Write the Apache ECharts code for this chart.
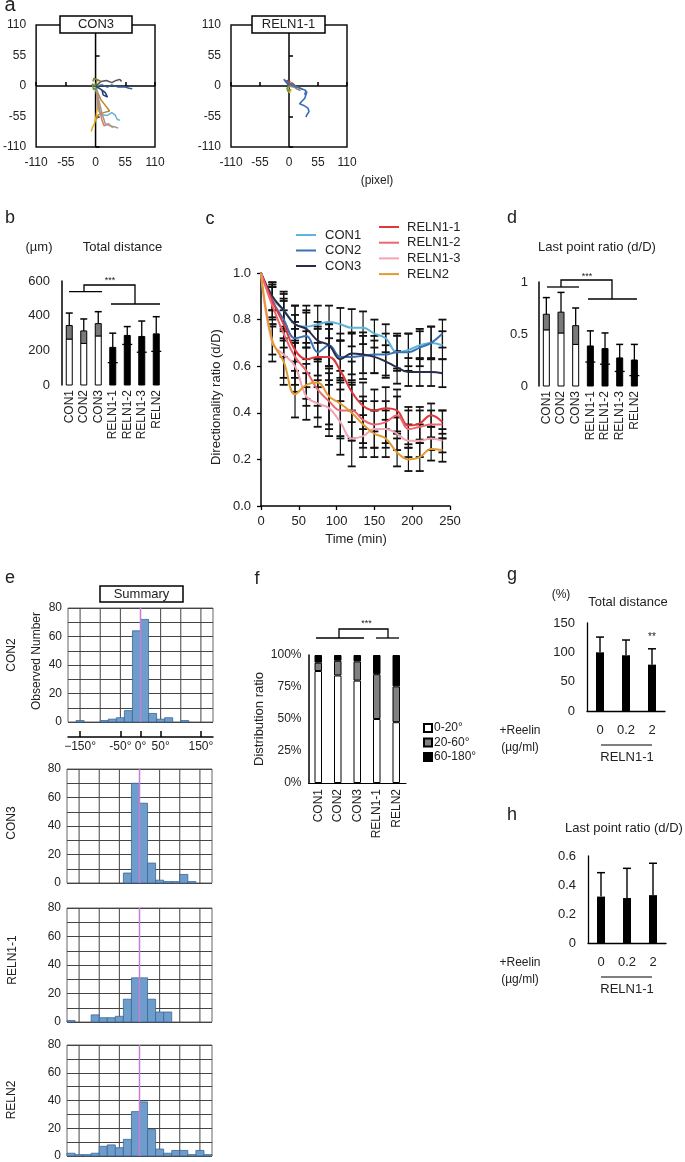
<!DOCTYPE html>
<html><head><meta charset="utf-8">
<script src="https://cdn.jsdelivr.net/npm/echarts@6/dist/echarts.min.js"></script>
<style>html,body{margin:0;padding:0;background:#fff}#c{width:685px;height:1162px}</style>
</head><body><div id="c"></div>
<script>
const FONT = "'Liberation Sans', Arial, Helvetica, sans-serif";

// ---------- Panel a: trajectories (pixel) ----------
const crossH = [[-110, 0], [110, 0]];
const crossV = [[0, -110], [0, 110]];
const con3Gold = [[0,0],[2,-10],[4,-25],[3,-40],[1,-55],[-2,-68],[-6,-75],[-8,-82]];
const con3Brown = [[0,0],[4,-12],[10,-25],[18,-35],[26,-45],[15,-48],[5,-52],[2,-60]];
const con3LightBlue = [[0,0],[2,-15],[4,-30],[6,-45],[10,-52],[22,-53],[30,-48],[36,-52],[40,-60],[45,-62]];
const con3Salmon = [[0,0],[3,-20],[8,-45],[12,-62],[16,-72],[24,-68],[28,-72],[32,-75]];
const con3Gray = [[0,0],[6,-25],[12,-50],[18,-68],[28,-72],[36,-74],[42,-76]];
const con3DarkBlue = [[0,0],[12,2],[22,-2],[30,2],[42,-2],[55,-2],[62,-4],[68,-5]];
const con3Dark = [[0,0],[10,8],[20,10],[30,6],[38,10],[45,12],[48,8]];
const con3Green = [[0,0],[-6,4],[-4,-6],[2,-4],[6,2]];
const con3Olive = [[0,0],[3,12],[10,8],[-3,14],[-5,8]];
const con3Navy = [[0,0],[10,-6],[18,-12],[22,-20],[14,-16],[12,-8]];
const con3Traj = [con3Gold, con3Brown, con3LightBlue, con3Salmon, con3Gray, con3DarkBlue, con3Dark, con3Green, con3Olive, con3Navy];
const con3Colors = ['#e8aa1c','#b8862a','#6aaed6','#e07a5a','#9a9a9a','#2d5d9a','#555555','#5a9a3a','#8a7a3a','#1f3f7a'];

const relnBlue = [[0,0],[-10,12],[-4,8],[6,2],[16,-2],[26,-6],[32,-8],[30,-16],[34,-10],[30,-22],[24,-28],[20,-32],[28,-35],[36,-40],[38,-46],[34,-52],[32,-56]];
const relnOrange = [[0,0],[8,4],[14,-2],[20,-4],[26,-6]];
const relnRed = [[0,0],[-4,10],[2,8],[-2,4]];
const relnGreen = [[0,0],[-4,-4],[-2,-10],[3,-6]];
const relnYellow = [[0,0],[-3,-8],[2,-12],[4,-6]];
const relnGray = [[0,0],[10,-2],[16,-6],[22,-8]];
const relnBrown = [[0,0],[5,6],[10,2],[14,-3]];
const relnTraj = [relnOrange, relnRed, relnGray, relnBrown, relnYellow, relnGreen, relnBlue];
const relnColors = ['#e07a2a','#c03a2a','#888888','#9a6a3a','#e8c040','#6aa040','#3a6db5'];

// ---------- Panels b, d ----------
const groups7 = ['CON1','CON2','CON3','RELN1-1','RELN1-2','RELN1-3','RELN2'];
const distMean = [343, 312, 354, 217, 286, 280, 295];
const distLow  = [265, 240, 283, 129, 234, 189, 194];
const distTop  = [415, 381, 423, 299, 337, 369, 394];
const ratioMean = [0.69, 0.71, 0.58, 0.385, 0.36, 0.27, 0.25];
const ratioLow  = [0.54, 0.51, 0.40, 0.23, 0.21, 0.14, 0.10];
const ratioTop  = [0.85, 0.90, 0.75, 0.53, 0.51, 0.40, 0.40];

// ---------- Panel c ----------
const times = [0,15,30,45,60,75,90,105,120,135,150,165,180,195,210,225,240];
const cCON1 = [1.00,0.89,0.84,0.78,0.77,0.78,0.79,0.78,0.765,0.765,0.74,0.72,0.66,0.67,0.69,0.70,0.69];
const cCON2 = [1.00,0.88,0.80,0.72,0.73,0.66,0.69,0.64,0.64,0.645,0.65,0.65,0.66,0.66,0.68,0.70,0.74];
const cCON3 = [1.00,0.90,0.84,0.78,0.76,0.71,0.69,0.63,0.655,0.65,0.64,0.62,0.595,0.575,0.575,0.575,0.57];
const cRELN11 = [1.00,0.88,0.78,0.67,0.63,0.64,0.64,0.58,0.49,0.43,0.41,0.42,0.41,0.345,0.355,0.39,0.36];
const cRELN12 = [1.00,0.86,0.74,0.64,0.58,0.50,0.45,0.41,0.41,0.37,0.35,0.36,0.39,0.33,0.34,0.35,0.35];
const cRELN13 = [1.00,0.70,0.65,0.60,0.47,0.44,0.42,0.36,0.29,0.30,0.33,0.33,0.31,0.28,0.28,0.29,0.28];
const cRELN2 = [1.00,0.71,0.62,0.48,0.52,0.53,0.47,0.44,0.40,0.35,0.31,0.29,0.23,0.20,0.21,0.245,0.24];
const sdCON1 = [0,0.05,0.08,0.08,0.09,0.08,0.07,0.07,0.08,0.07,0.06,0.06,0.07,0.07,0.06,0.07,0.06];
const sdCON2 = [0,0.07,0.09,0.10,0.10,0.10,0.09,0.10,0.10,0.10,0.08,0.09,0.08,0.08,0.08,0.07,0.06];
const sdCON3 = [0,0.06,0.07,0.08,0.08,0.08,0.09,0.08,0.09,0.08,0.07,0.07,0.07,0.06,0.06,0.06,0.06];
const sdRELN11 = [0,0.08,0.10,0.12,0.12,0.13,0.12,0.13,0.13,0.10,0.09,0.09,0.09,0.08,0.07,0.05,0.05];
const sdRELN12 = [0,0.08,0.10,0.12,0.12,0.12,0.12,0.12,0.12,0.10,0.10,0.09,0.08,0.08,0.07,0.06,0.06];
const sdRELN13 = [0,0.08,0.10,0.11,0.10,0.10,0.12,0.14,0.12,0.09,0.08,0.08,0.07,0.07,0.07,0.05,0.05];
const sdRELN2 = [0,0.06,0.10,0.10,0.09,0.10,0.12,0.14,0.12,0.10,0.10,0.08,0.06,0.05,0.06,0.05,0.05];
const cNames = ['CON1','CON2','CON3','RELN1-1','RELN1-2','RELN1-3','RELN2'];
const cVals = [cCON1, cCON2, cCON3, cRELN11, cRELN12, cRELN13, cRELN2];
const cSds = [sdCON1, sdCON2, sdCON3, sdRELN11, sdRELN12, sdRELN13, sdRELN2];
const cColors = ['#5fb4dc','#3a72b4','#2a2c4c','#e2383a','#ee6670','#f2a4b4','#e39a30'];

// ---------- Panel e: angle histograms ----------
const binStarts = [-180,-160,-140,-120,-100,-80,-60,-40,-20,0,20,40,60,80,100,120,140,160];
const binWidth = 20;
const histCON2  = [0,1,0,0,1,2,3,8,64,72,6,2,3,0,1,0,0,0];
const histCON3  = [0,0,0,0,0,0,0,7,70,56,14,2,1,1,6,1,0,0];
const histRELN11 = [1,0,0,5,3,3,4,16,31,31,16,7,7,0,0,0,0,0];
const histRELN2 = [2,1,1,2,7,8,6,12,32,39,19,5,2,4,4,1,4,1];
const histGridDeg = [-150,-100,-50,0,50,100,150];
const histAxisDeg = [-150,-50,0,50,150];
const zeroLine = [[0,0],[0,80]];

// ---------- Panel f ----------
const fGroups = ['CON1','CON2','CON3','RELN1-1','RELN2'];
const f0_20 = [87.5, 84, 80, 50, 47.5];
const f20_60 = [6.5, 11.5, 15, 35, 28];
const f60_180 = [6, 4.5, 5, 15, 24.5];

// ---------- Panels g, h ----------
const reelinDoses = ['0','0.2','2'];
const gMean = [100, 95, 79];
const gTop = [126, 121, 106];
const hMean = [0.32, 0.31, 0.33];
const hTop = [0.485, 0.515, 0.55];

// ================= helpers =================
function boxBar(w, capW) {
  return function (params, api) {
    const i = api.value(0), mean = api.value(1), low = api.value(2), top = api.value(3), con = api.value(4);
    const p0 = api.coord([i, 0]), pm = api.coord([i, mean]), pl = api.coord([i, low]), pt = api.coord([i, top]);
    const x = p0[0];
    const ch = [
      {type:'line', shape:{x1:x, y1:pm[1], x2:x, y2:pt[1]}, style:{stroke:'#000', lineWidth:1.3}},
      {type:'line', shape:{x1:x-capW/2, y1:pt[1], x2:x+capW/2, y2:pt[1]}, style:{stroke:'#000', lineWidth:1.5}}
    ];
    if (con) {
      ch.push({type:'rect', shape:{x:x-w/2, y:pl[1], width:w, height:p0[1]-pl[1]}, style:{fill:'#fff', stroke:'#000', lineWidth:1}});
      ch.push({type:'rect', shape:{x:x-w/2, y:pm[1], width:w, height:pl[1]-pm[1]}, style:{fill:'#7a7a7a', stroke:'#000', lineWidth:1}});
    } else {
      ch.push({type:'rect', shape:{x:x-w/2, y:pm[1], width:w, height:p0[1]-pm[1]}, style:{fill:'#000', stroke:'#000', lineWidth:1}});
      ch.push({type:'line', shape:{x1:x-w/2-2, y1:pl[1], x2:x+w/2+2, y2:pl[1]}, style:{stroke:'#000', lineWidth:1.3}});
    }
    return {type:'group', children: ch};
  };
}
function upErr(capW) {
  return function (params, api) {
    const i = api.value(0), mean = api.value(1), top = api.value(2);
    const pm = api.coord([i, mean]), pt = api.coord([i, top]);
    const x = pm[0];
    return {type:'group', children:[
      {type:'line', shape:{x1:x, y1:pm[1], x2:x, y2:pt[1]}, style:{stroke:'#000', lineWidth:1.4}},
      {type:'line', shape:{x1:x-capW/2, y1:pt[1], x2:x+capW/2, y2:pt[1]}, style:{stroke:'#000', lineWidth:1.5}}
    ]};
  };
}
function sdErr(params, api) {
  const t = api.value(0), m = api.value(1), s = api.value(2);
  if (!s) return null;
  const a = api.coord([t, m + s]), b = api.coord([t, m - s]);
  const x = a[0], cw = 8;
  return {type:'group', children:[
    {type:'line', shape:{x1:x, y1:a[1], x2:x, y2:b[1]}, style:{stroke:'#111', lineWidth:1.2}},
    {type:'line', shape:{x1:x-cw/2, y1:a[1], x2:x+cw/2, y2:a[1]}, style:{stroke:'#111', lineWidth:1.8}},
    {type:'line', shape:{x1:x-cw/2, y1:b[1], x2:x+cw/2, y2:b[1]}, style:{stroke:'#111', lineWidth:1.8}}
  ]};
}
function histRect(params, api) {
  const s = api.value(0), v = api.value(1);
  if (!v) return null;
  const p1 = api.coord([s, v]), p2 = api.coord([s + binWidth, 0]);
  return {type:'rect', shape:{x:p1[0], y:p1[1], width:p2[0]-p1[0], height:p2[1]-p1[1]},
    style:{fill:'#6e9ccb', stroke:'#3b6795', lineWidth:0.8}};
}
function histVLine(params, api) {
  const d = api.value(0);
  const a = api.coord([d, 0]), b = api.coord([d, 80]);
  return {type:'line', shape:{x1:a[0], y1:a[1], x2:b[0], y2:b[1]}, style:{stroke:'#444', lineWidth:1}};
}

const lbl = (size, extra) => Object.assign({fontSize:size, color:'#222', fontFamily:FONT}, extra || {});
const blackLine = (w) => ({show:true, lineStyle:{color:'#000', width:w}});

// ================= grids =================
const grids = [
  {left:36, top:25, width:119, height:122, show:true, borderColor:'#111', borderWidth:1.5},   // 0 a-left
  {left:231, top:25, width:116, height:122, show:true, borderColor:'#111', borderWidth:1.5},  // 1 a-right
  {left:62, top:281, width:101.5, height:104},       // 2 b
  {left:261, top:273, width:189, height:233},        // 3 c
  {left:539, top:282, width:102.7, height:104},      // 4 d
  {left:68, top:608, width:145, height:114, show:true, borderColor:'#666', borderWidth:1}, // 5 e1
  {left:67, top:769, width:145, height:114, show:true, borderColor:'#666', borderWidth:1}, // 6 e2
  {left:67, top:908, width:145, height:114, show:true, borderColor:'#666', borderWidth:1}, // 7 e3
  {left:67, top:1045, width:145, height:112, show:true, borderColor:'#666', borderWidth:1},// 8 e4
  {left:308.5, top:655, width:97.5, height:128},     // 9 f
  {left:587, top:623, width:78, height:88},          // 10 g
  {left:588, top:856, width:78, height:87}           // 11 h
];

function aAxis(gi) {
  return {type:'value', gridIndex:gi, min:-110, max:110, interval:55,
    axisLine:{show:false}, axisTick:{show:true, inside:true, length:4, lineStyle:{color:'#000', width:1.5}},
    splitLine:{show:false}, axisLabel:lbl(12, {margin:10})};
}
function histX(gi) {
  return {type:'value', gridIndex:gi, min:-180, max:180, axisLine:{show:false}, axisTick:{show:false},
    axisLabel:{show:false}, splitLine:{show:false}};
}
function histY(gi) {
  return {type:'value', gridIndex:gi, min:0, max:80, interval:10, axisLine:{show:false}, axisTick:{show:false},
    splitLine:{show:true, lineStyle:{color:'#444', width:1}},
    axisLabel:lbl(12, {margin:6, formatter:(v)=> (v % 20 === 0 ? String(v) : '')})};
}

const xAxes = [
  aAxis(0), aAxis(1),
  {type:'category', gridIndex:2, data:groups7, axisLine:{show:false}, axisTick:{show:false},
    axisLabel:lbl(12, {rotate:90, margin:5, interval:0})},
  {type:'value', gridIndex:3, min:0, max:250, interval:50, axisLine:blackLine(1.5),
    axisTick:{show:true, length:4, lineStyle:{color:'#000', width:1.3}}, splitLine:{show:false},
    axisLabel:lbl(13, {margin:9})},
  {type:'category', gridIndex:4, data:groups7, axisLine:{show:false}, axisTick:{show:false},
    axisLabel:lbl(12, {rotate:90, margin:5, interval:0})},
  histX(5), histX(6), histX(7), histX(8),
  {type:'category', gridIndex:9, data:fGroups, axisLine:blackLine(1), axisTick:{show:false},
    axisLabel:lbl(12, {rotate:90, margin:6, interval:0})},
  {type:'category', gridIndex:10, data:reelinDoses, axisLine:blackLine(1.3), axisTick:{show:false},
    axisLabel:lbl(13, {margin:13})},
  {type:'category', gridIndex:11, data:reelinDoses, axisLine:blackLine(1.3), axisTick:{show:false},
    axisLabel:lbl(13, {margin:13})},
  {type:'value', gridIndex:5, min:-180, max:180, position:'bottom', offset:15,
    axisLine:blackLine(1.5),
    axisTick:{show:true, inside:true, length:6, customValues:histAxisDeg, lineStyle:{color:'#000', width:1.5}},
    splitLine:{show:false},
    axisLabel:lbl(12, {margin:4, customValues:histAxisDeg,
      formatter:(v)=> (v < -100 ? '\u2212' + Math.abs(v) : String(v)) + '\u00b0'})}
];

const yAxes = [
  aAxis(0), aAxis(1),
  {type:'value', gridIndex:2, min:0, max:600, interval:200, axisLine:blackLine(1.5), axisTick:{show:false},
    splitLine:{show:false}, axisLabel:lbl(13, {margin:12})},
  {type:'value', gridIndex:3, min:0, max:1, interval:0.2, axisLine:blackLine(1.5),
    axisTick:{show:true, length:4, lineStyle:{color:'#000', width:1.3}}, splitLine:{show:false},
    axisLabel:lbl(13, {margin:10, formatter:(v)=>v.toFixed(1)})},
  {type:'value', gridIndex:4, min:0, max:1, interval:0.5, axisLine:blackLine(1.5), axisTick:{show:false},
    splitLine:{show:false}, axisLabel:lbl(13, {margin:11})},
  histY(5), histY(6), histY(7), histY(8),
  {type:'value', gridIndex:9, min:0, max:100, interval:25, axisLine:blackLine(1.5), axisTick:{show:false},
    splitLine:{show:false}, axisLabel:lbl(12, {margin:7, formatter:'{value}%'})},
  {type:'value', gridIndex:10, min:0, max:150, interval:50, axisLine:blackLine(1.3), axisTick:{show:false},
    splitLine:{show:false}, axisLabel:lbl(13, {margin:12})},
  {type:'value', gridIndex:11, min:0, max:0.6, interval:0.2, axisLine:blackLine(1.3), axisTick:{show:false},
    splitLine:{show:false}, axisLabel:lbl(13, {margin:12, formatter:(v)=> v === 0 ? '0' : v.toFixed(1)})}
];

// ================= series =================
const series = [];
function pathSer(ai, data, color, width, z, extra) {
  return Object.assign({type:'line', xAxisIndex:ai, yAxisIndex:ai, data:data, showSymbol:false, symbol:'none',
    lineStyle:{color:color, width:width}, itemStyle:{color:color}, z:z, silent:true}, extra || {});
}
// panel a
[0,1].forEach(ai => {
  series.push(pathSer(ai, crossH, '#000', 1.5, 1));
  series.push(pathSer(ai, crossV, '#000', 1.5, 1));
});
con3Traj.forEach((d, k) => series.push(pathSer(0, d, con3Colors[k], 1.5, 3)));
relnTraj.forEach((d, k) => series.push(pathSer(1, d, relnColors[k], 1.6, 3)));

// panel b
series.push({type:'custom', xAxisIndex:2, yAxisIndex:2, renderItem:boxBar(6, 7), silent:true,
  encode:{x:0, y:[1,2,3]},
  data: groups7.map((g, i) => [i, distMean[i], distLow[i], distTop[i], g.indexOf('CON') === 0 ? 1 : 0])});
// panel d
series.push({type:'custom', xAxisIndex:4, yAxisIndex:4, renderItem:boxBar(6, 7), silent:true,
  encode:{x:0, y:[1,2,3]},
  data: groups7.map((g, i) => [i, ratioMean[i], ratioLow[i], ratioTop[i], g.indexOf('CON') === 0 ? 1 : 0])});

// panel c
cNames.forEach((n, k) => {
  series.push({type:'custom', name:n + ' sd', xAxisIndex:3, yAxisIndex:3, renderItem:sdErr, silent:true, z:2,
    encode:{x:0, y:1}, data: times.map((t, i) => [t, cVals[k][i], cSds[k][i]])});
});
cNames.forEach((n, k) => {
  series.push({type:'line', name:n, xAxisIndex:3, yAxisIndex:3, smooth:0.4, showSymbol:false, symbol:'none',
    lineStyle:{color:cColors[k], width:2}, itemStyle:{color:cColors[k]}, z:4,
    data: times.map((t, i) => [t, cVals[k][i]])});
});

// panel e
[histCON2, histCON3, histRELN11, histRELN2].forEach((h, k) => {
  const ai = 5 + k;
  series.push({type:'custom', xAxisIndex:ai, yAxisIndex:ai, renderItem:histVLine, silent:true, z:1,
    encode:{x:0}, data: histGridDeg.map(d => [d])});
  series.push({type:'custom', xAxisIndex:ai, yAxisIndex:ai, renderItem:histRect, silent:true, z:2,
    encode:{x:0, y:1}, data: binStarts.map((s, i) => [s, h[i]])});
  series.push(pathSer(ai, zeroLine, '#c77ed8', 1.5, 4));
});

// panel f
[['0-20\u00b0', f0_20, '#ffffff'], ['20-60\u00b0', f20_60, '#808080'], ['60-180\u00b0', f60_180, '#000000']].forEach(s => {
  series.push({type:'bar', name:s[0], stack:'f', xAxisIndex:9, yAxisIndex:9, data:s[1], barWidth:7.5,
    itemStyle:{color:s[2], borderColor:'#000', borderWidth:1}, silent:true});
});

// panels g, h
series.push({type:'bar', xAxisIndex:10, yAxisIndex:10, data:gMean, barWidth:8, itemStyle:{color:'#000'}, silent:true});
series.push({type:'custom', xAxisIndex:10, yAxisIndex:10, renderItem:upErr(8), silent:true, z:3,
  encode:{x:0, y:[1,2]}, data: gMean.map((m, i) => [i, m, gTop[i]])});
series.push({type:'bar', xAxisIndex:11, yAxisIndex:11, data:hMean, barWidth:8, itemStyle:{color:'#000'}, silent:true});
series.push({type:'custom', xAxisIndex:11, yAxisIndex:11, renderItem:upErr(8), silent:true, z:3,
  encode:{x:0, y:[1,2]}, data: hMean.map((m, i) => [i, m, hTop[i]])});

// ================= decorations =================
function T(text, x, y, size, opt) {
  opt = opt || {};
  return {type:'text', x:x, y:y, rotation:opt.rot || 0, z:100, silent:true,
    style:{text:text, fill:'#222', font: size + 'px ' + FONT,
      textAlign:opt.align || 'center', textVerticalAlign:'middle', align:opt.align || 'center', verticalAlign:'middle'}};
}
function L(points, w) {
  return {type:'polyline', z:100, silent:true, shape:{points:points}, style:{stroke:'#000', lineWidth:w || 1.3, fill:null}};
}
function Box(x, y, w, h) {
  return {type:'rect', z:99, silent:true, shape:{x:x, y:y, width:w, height:h}, style:{fill:'#fff', stroke:'#000', lineWidth:1.5}};
}
const R = Math.PI / 2;
const elements = [
  T('a', 10, 5, 20), T('b', 10, 218, 18), T('c', 210, 219.5, 18), T('d', 512, 218, 18),
  T('e', 10, 578.5, 18), T('f', 257, 579, 18), T('g', 512, 575, 18), T('h', 512, 815, 18),
  // a
  Box(60, 16, 72, 17), T('CON3', 96, 24.5, 13),
  Box(252, 16, 73, 17), T('RELN1-1', 288.5, 24.5, 13),
  T('(pixel)', 377, 181, 12),
  // b
  T('(\u00b5m)', 39, 247, 13), T('Total distance', 122.5, 247, 13),
  L([[69,291.7],[102,291.7]]), L([[111,304],[160,304]]), L([[84,292],[84,285],[135,285],[135,304]]),
  T('***', 110, 281, 9),
  // c
  T('Directionality ratio (d/D)', 216, 397, 13, {rot:R}), T('Time (min)', 356, 539, 13),
  // d
  T('Last point ratio (d/D)', 597, 247, 13),
  L([[547,287],[579,287]]), L([[588,299],[637,299]]), L([[561,287],[561,280],[612,280],[612,299]]),
  T('***', 587, 276.5, 9),
  // e
  Box(100, 586, 83, 16), T('Summary', 141.5, 594, 13),
  T('CON2', 12, 655, 12, {rot:R}), T('Observed Number', 37, 661, 12, {rot:R}),
  T('CON3', 12, 823, 12, {rot:R}), T('RELN1-1', 13, 960, 12, {rot:R}), T('RELN2', 12, 1100, 12, {rot:R}),
  // f
  T('Distribution ratio', 259, 719, 13, {rot:R}),
  L([[316,638],[364,638]]), L([[376,638],[399,638]]), L([[339,638],[339,629],[388,629],[388,638]]),
  T('***', 366.5, 624, 9),
  // g
  T('(%)', 561, 595, 12), T('Total distance', 628, 602, 13), T('**', 652, 637, 10),
  T('+Reelin', 520, 731, 12), T('(\u00b5g/ml)', 520, 748, 12), L([[601,745],[652,745]], 1.2), T('RELN1-1', 627, 757, 13),
  // h
  T('Last point ratio (d/D)', 624, 828, 13),
  T('+Reelin', 520, 963, 12), T('(\u00b5g/ml)', 520, 980, 12), L([[601,977],[652,977]], 1.2), T('RELN1-1', 627, 989, 13)
];

const option = {
  animation:false,
  backgroundColor:'#fff',
  textStyle:{fontFamily:FONT},
  grid:grids, xAxis:xAxes, yAxis:yAxes, series:series,
  legend:[
    {data:['CON1','CON2','CON3'], orient:'vertical', left:296, top:228.5, padding:0, itemGap:2.5,
      itemWidth:20, itemHeight:2, icon:'rect', selectedMode:false,
      textStyle:{fontSize:13, color:'#222', fontFamily:FONT, padding:[0,0,0,4]}},
    {data:['RELN1-1','RELN1-2','RELN1-3','RELN2'], orient:'vertical', left:379, top:220.5, padding:0, itemGap:2.7,
      itemWidth:20, itemHeight:2, icon:'rect', selectedMode:false,
      textStyle:{fontSize:13, color:'#222', fontFamily:FONT, padding:[0,0,0,3]}},
    {data:['0-20\u00b0','20-60\u00b0','60-180\u00b0'], orient:'vertical', left:423, top:722, padding:0, itemGap:2.5,
      itemWidth:8, itemHeight:8, icon:'rect', selectedMode:false,
      textStyle:{fontSize:12, color:'#222', fontFamily:FONT, padding:[0,0,0,-3]}}
  ],
  graphic:{elements:elements}
};
const chart = echarts.init(document.getElementById('c'), null, {renderer:'canvas', width:685, height:1162});
chart.setOption(option);
</script></body></html>
